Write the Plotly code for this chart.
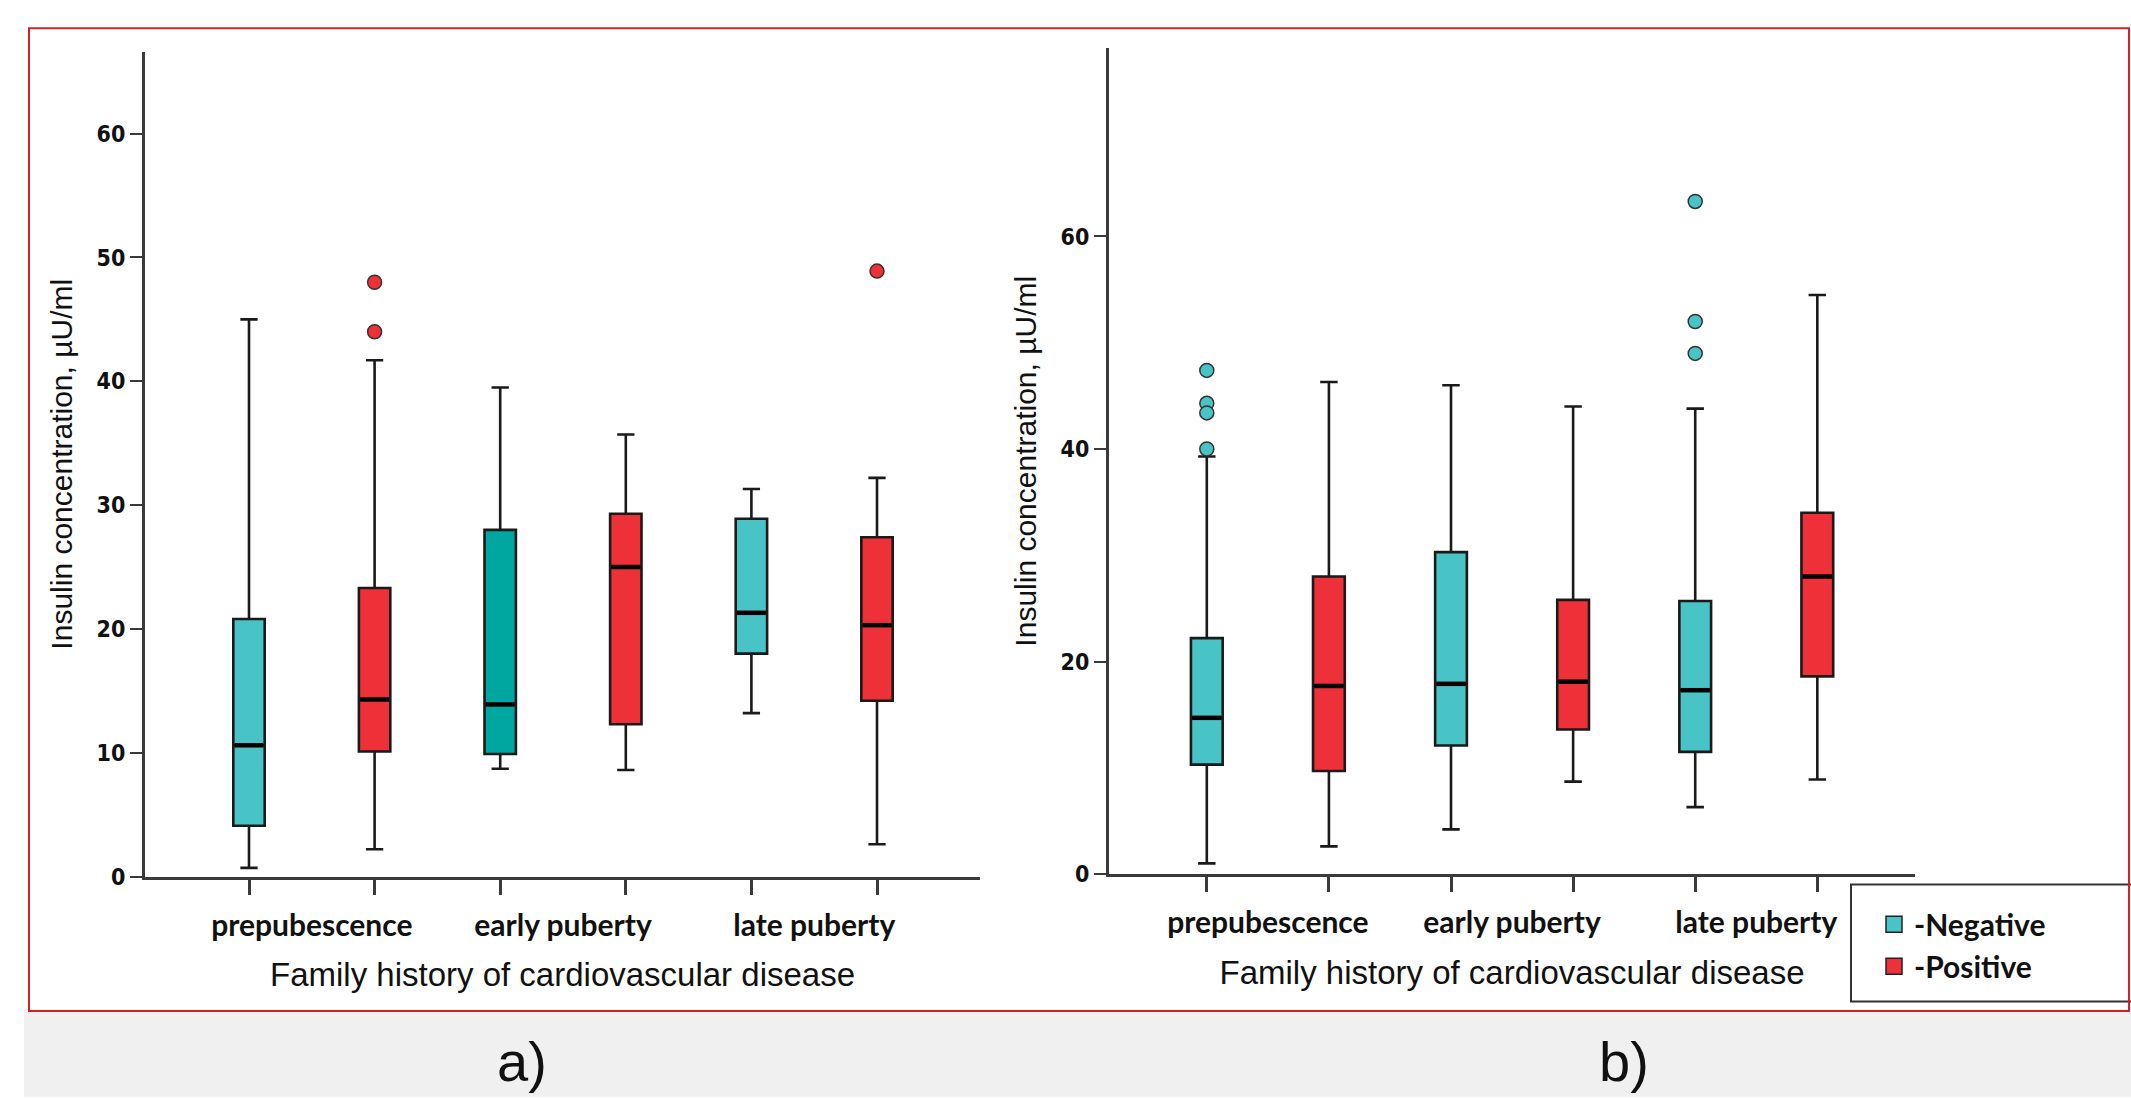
import plotly.graph_objects as go

# ---- data -------------------------------------------------------------
GROUPS = ["prepubescence", "early puberty", "late puberty"]
HISTORY = ["-Negative", "-Positive"]

# box order: prep-neg, prep-pos, early-neg, early-pos, late-neg, late-pos
A_LOW = [0.7, 2.2, 8.7, 8.6, 13.2, 2.6]
A_Q1 = [4.1, 10.1, 9.9, 12.3, 18.0, 14.2]
A_MED = [10.6, 14.3, 13.9, 25.0, 21.3, 20.3]
A_Q3 = [20.8, 23.3, 28.0, 29.3, 28.9, 27.4]
A_HIGH = [45.0, 41.7, 39.5, 35.7, 31.3, 32.2]
A_OUT_BOX = [1, 1, 5]
A_OUT_VAL = [48.0, 44.0, 48.9]

B_LOW = [1.0, 2.6, 4.2, 8.7, 6.3, 8.9]
B_Q1 = [10.3, 9.7, 12.1, 13.6, 11.5, 18.6]
B_MED = [14.7, 17.7, 17.9, 18.1, 17.3, 28.0]
B_Q3 = [22.2, 28.0, 30.3, 25.8, 25.7, 34.0]
B_HIGH = [39.3, 46.3, 46.0, 44.0, 43.8, 54.5]
B_OUT_BOX = [0, 0, 0, 0, 4, 4, 4]
B_OUT_VAL = [47.4, 44.3, 43.4, 40.0, 63.3, 52.0, 49.0]

Y_TICKS_A = [0, 10, 20, 30, 40, 50, 60]
Y_TICKS_B = [0, 20, 40, 60]

# ---- style ------------------------------------------------------------
W, H = 2131, 1099
TEAL = "#48C3C6"
DARK_TEAL = "#00A6A0"
RED = "#EE3139"
EDGE = "#1a1a1a"
AXIS = "#3a3a3a"
TICK_FONT = dict(family="DejaVu Sans Condensed, DejaVu Sans, sans-serif", size=23, color="#111", weight="bold")
CAT_FONT = dict(family="Lato, Open Sans, sans-serif", size=30, color="#111", weight="bold")
YTITLE_FONT = dict(family="Liberation Sans, Arial, sans-serif", size=30, color="#111")
XTITLE_FONT = dict(family="Liberation Sans, Arial, sans-serif", size=33, color="#111")

COLORS_A = [TEAL, RED, DARK_TEAL, RED, TEAL, RED]
COLORS_B = [TEAL, RED, TEAL, RED, TEAL, RED]


def px_x(p):
    return p / W


def px_y(p):
    return 1 - p / H


positions = list(range(1, 2 * len(GROUPS) + 1))
group_centres = [positions[2 * i] + 0.5 for i in range(len(GROUPS))]

fig = go.Figure()


def add_panel(xa, ya, xlab, low, q1, med, q3, high, out_box, out_val, colors, width):
    for i, pos in enumerate(positions):
        fig.add_trace(go.Box(
            x=[pos], q1=[q1[i]], median=[med[i]], q3=[q3[i]],
            lowerfence=[low[i]], upperfence=[high[i]],
            width=width, whiskerwidth=0.55,
            fillcolor=colors[i], line=dict(color=EDGE, width=2.6),
            boxpoints=False, showlegend=False, hoverinfo="skip",
            xaxis=xa, yaxis=ya,
        ))
        # heavier median bar across the box
        fig.add_trace(go.Scatter(
            x=[pos - width / 2 + 0.01, pos + width / 2 - 0.01], y=[med[i], med[i]],
            mode="lines", line=dict(color="#000", width=4.5),
            showlegend=False, hoverinfo="skip", xaxis=xa, yaxis=ya,
        ))
    fig.add_trace(go.Scatter(
        x=[positions[b] for b in out_box], y=out_val, mode="markers",
        marker=dict(size=14, color=[colors[b] for b in out_box],
                    line=dict(color="#333", width=1.5)),
        showlegend=False, hoverinfo="skip", xaxis=xa, yaxis=ya,
    ))
    # carrier for the group-label axis
    fig.add_trace(go.Scatter(
        x=group_centres, y=[None] * len(group_centres), mode="markers",
        marker=dict(opacity=0), showlegend=False, hoverinfo="skip",
        xaxis=xlab, yaxis=ya,
    ))


add_panel("x", "y", "x3", A_LOW, A_Q1, A_MED, A_Q3, A_HIGH, A_OUT_BOX, A_OUT_VAL, COLORS_A, 0.25)
add_panel("x2", "y2", "x4", B_LOW, B_Q1, B_MED, B_Q3, B_HIGH, B_OUT_BOX, B_OUT_VAL, COLORS_B, 0.26)

# legend entries
for name, col in zip(HISTORY, [TEAL, RED]):
    fig.add_trace(go.Scatter(
        x=[None], y=[None], mode="markers", name=name,
        marker=dict(symbol="square", size=16, color=col, line=dict(color="#222", width=1.5)),
        xaxis="x2", yaxis="y2",
    ))

x_common = dict(
    showline=True, linecolor=AXIS, linewidth=3, showgrid=False, zeroline=False,
    ticks="outside", ticklen=15, tickwidth=2.5, tickcolor=AXIS,
    tickvals=positions, ticktext=[""] * len(positions), fixedrange=True,
)
lab_common = dict(
    showline=False, showgrid=False, zeroline=False,
    ticks="outside", ticklen=22, tickcolor="rgba(0,0,0,0)",
    tickvals=group_centres, ticktext=GROUPS, tickfont=CAT_FONT,
    title=dict(text="Family history of cardiovascular disease", font=XTITLE_FONT, standoff=22),
    side="bottom",
)
y_common = dict(
    showline=True, linecolor=AXIS, linewidth=3, showgrid=False, zeroline=False,
    ticks="outside", ticklen=12, tickwidth=2, tickcolor=AXIS, tickfont=TICK_FONT,
    title=dict(text="Insulin concentration, µU/ml", font=YTITLE_FONT, standoff=16),
)

XA = [145, 980]
XB = [1109, 1915]
YA = [887, 52.6]
YB = [884.5, 49]
RANGE_A = [0.172, 6.82]
RANGE_B = [0.199, 6.80]

fig.update_layout(
    width=W, height=H, margin=dict(l=0, r=0, t=0, b=0),
    paper_bgcolor="white", plot_bgcolor="white",
    xaxis=dict(domain=[px_x(XA[0]), px_x(XA[1])], range=RANGE_A, anchor="y", **x_common),
    yaxis=dict(domain=[px_y(YA[0]), px_y(YA[1])], range=[0, 66.6], anchor="x",
               tickvals=Y_TICKS_A, **y_common),
    xaxis2=dict(domain=[px_x(XB[0]), px_x(XB[1])], range=RANGE_B, anchor="y2", **x_common),
    yaxis2=dict(domain=[px_y(YB[0]), px_y(YB[1])], range=[0, 77.7], anchor="x2",
                tickvals=Y_TICKS_B, **y_common),
    xaxis3=dict(overlaying="x", anchor="y", range=RANGE_A, **lab_common),
    xaxis4=dict(overlaying="x2", anchor="y2", range=RANGE_B, **lab_common),
    showlegend=True,
    legend=dict(
        x=px_x(1874), y=px_y(909), xanchor="left", yanchor="top",
        font=dict(family="Lato, Open Sans, sans-serif", size=30, color="#111", weight="bold"),
        bgcolor="rgba(0,0,0,0)", borderwidth=0, tracegroupgap=0, itemsizing="trace",
    ),
    shapes=[
        # grey caption band
        dict(type="rect", xref="paper", yref="paper", layer="below",
             x0=px_x(24), x1=1.01, y0=-0.01, y1=px_y(1021),
             fillcolor="#F0F0F0", line=dict(width=0)),
        # red frame
        dict(type="rect", xref="paper", yref="paper",
             x0=px_x(29), x1=px_x(2129), y0=px_y(1023), y1=px_y(28.5),
             fillcolor="rgba(0,0,0,0)", line=dict(color="#D0202A", width=2)),
        # legend frame
        dict(type="rect", xref="paper", yref="paper",
             x0=px_x(1851), x1=1.05, y0=px_y(1013.5), y1=px_y(895),
             fillcolor="white", line=dict(color="#333", width=2), layer="below"),
    ],
    annotations=[
        dict(text="a)", x=px_x(522), y=px_y(1074), xref="paper", yref="paper",
             xanchor="center", yanchor="middle", showarrow=False,
             font=dict(family="Liberation Sans, Arial, sans-serif", size=56, color="#111")),
        dict(text="b)", x=px_x(1624), y=px_y(1074), xref="paper", yref="paper",
             xanchor="center", yanchor="middle", showarrow=False,
             font=dict(family="Liberation Sans, Arial, sans-serif", size=56, color="#111")),
    ],
)

fig.write_html("out.html")
